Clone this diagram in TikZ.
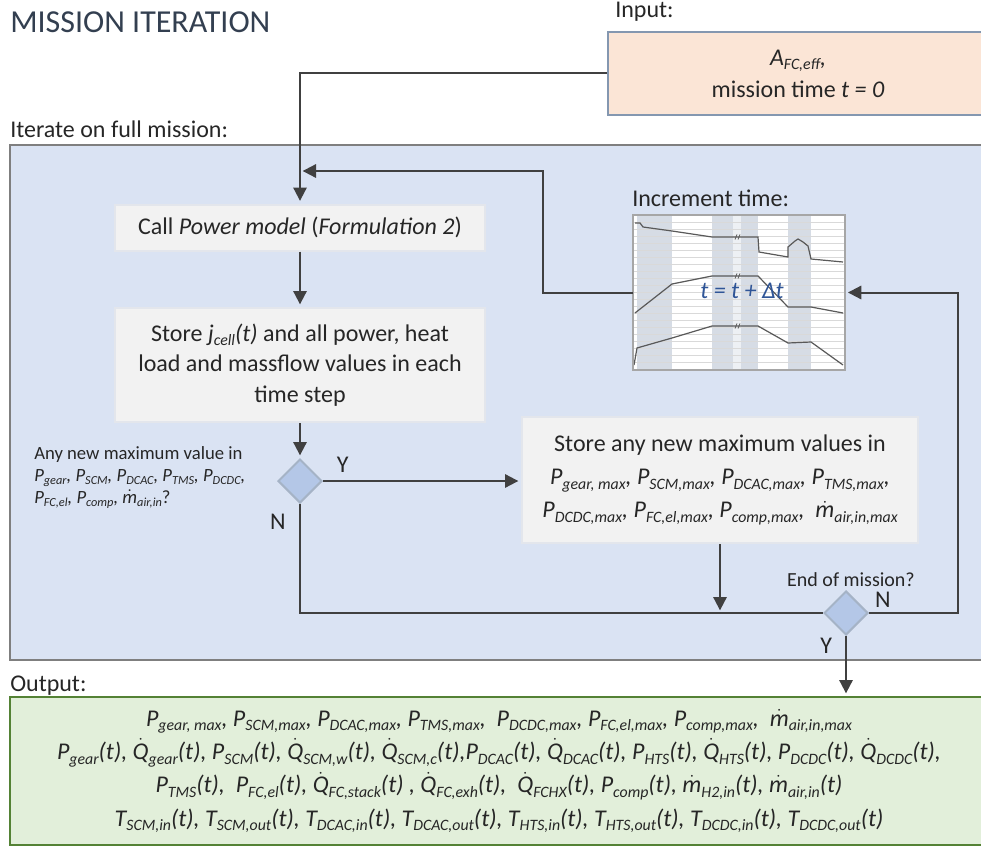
\documentclass[tikz,border=0pt]{standalone}
\usepackage{fontspec}
\setmainfont{Carlito}
\usepackage{amsmath}
\usepackage{tikz}
\usetikzlibrary{arrows.meta,shapes.geometric,positioning}

\definecolor{titlec}{HTML}{333F50}
\definecolor{txt}{HTML}{262626}
\definecolor{arr}{HTML}{404040}
\definecolor{inputfill}{HTML}{FBE5D6}
\definecolor{inputdraw}{HTML}{8497B0}
\definecolor{loopfill}{HTML}{DAE3F3}
\definecolor{loopdraw}{HTML}{7F7F7F}
\definecolor{procfill}{HTML}{F2F2F2}
\definecolor{procdraw}{HTML}{E3E6EC}
\definecolor{decfill}{HTML}{B4C7E7}
\definecolor{decdraw}{HTML}{A5B3C6}
\definecolor{outfill}{HTML}{E2EFDA}
\definecolor{outdraw}{HTML}{548235}
\definecolor{bandc}{HTML}{D6DCE5}
\definecolor{bandlight}{HTML}{EDF0F4}
\definecolor{tblue}{HTML}{2F5597}

\makeatletter
\newcommand{\sbs}[1]{\raisebox{-0.2em}{\fontsize{\fpeval{0.66*\f@size}}{0}\selectfont #1}}
\makeatother
\newcommand{\va}[2]{#1\sbs{#2}}
\newcommand{\vd}[2]{$\dot{\mbox{#1}}$\sbs{#2}}

\begin{document}
\begin{tikzpicture}[x=0.75pt,y=-0.75pt,>={Triangle[length=10pt,width=10pt]},
                    font=\fontsize{18}{23}\selectfont,text=txt]
  \tikzstyle{proc}=[draw=procdraw,fill=procfill,line width=1.5pt,align=center,inner sep=4pt]
  \tikzstyle{decision}=[diamond,aspect=1,draw=decdraw,fill=decfill,line width=1.5pt,inner sep=0pt,minimum size=33pt]
  \tikzstyle{link}=[draw=arr,line width=1.5pt]
  \tikzstyle{flow}=[link,->,shorten >=2pt]
  \tikzstyle{lbl}=[inner sep=0pt,text=txt]
  \tikzstyle{small}=[font=\fontsize{14}{16.5}\selectfont]
  \tikzstyle{grid}=[draw=black!15,line width=0.4pt]
  \tikzstyle{curve}=[draw=black!65,line width=0.9pt]

  \useasboundingbox (0,0) rectangle (981,849);

  % loop frame
  \draw[draw=loopdraw,fill=loopfill,line width=1.5pt] (10,145) rectangle (990,660);

  \node[lbl,anchor=base west,text=titlec,font=\fontsize{24}{29}\selectfont] (T) at (10,33) {MISSION ITERATION};
  \node[lbl,anchor=base west] (Lin)  at (615,18)  {Input:};
  \node[lbl,anchor=base west] (Lit)  at (10,137)  {Iterate on full mission:};
  \node[lbl,anchor=base west] (Lout) at (10,691)  {Output:};

  \node[draw=inputdraw,fill=inputfill,line width=1.5pt,minimum width=285pt,minimum height=62pt,
        align=center,font=\fontsize{18}{24}\selectfont] (In) at (798,73.5)
        {\textit{\va{A}{FC,eff},}\\ mission time \textit{t = 0}};

  \node[proc,minimum width=277.5pt,minimum height=34.5pt] (Call) at (300,227.5)
        {Call \textit{Power model} (\textit{Formulation 2})};
  \node[proc,minimum width=277.5pt,minimum height=85.5pt] (Store) at (300,365)
        {Store \textit{\va{j}{cell}(t)} and all power, heat\\ load and massflow values in each\\ time step};
  \node[decision] (D1) at (300,481) {};
  \node[lbl,small,anchor=north west,align=left] (Q) at (34,446)
        {Any new maximum value in\\
         \textit{\va{P}{gear}, \va{P}{SCM}, \va{P}{DCAC}, \va{P}{TMS}, \va{P}{DCDC},}\\
         \textit{\va{P}{FC,el}, \va{P}{comp}, \vd{m}{air,in}}?};
  \node[proc,minimum width=297pt,minimum height=94.5pt,font=\fontsize{18}{25}\selectfont] (Max) at (720,480)
        {Store any new maximum values in\\
         \textit{\va{P}{gear, max}, \va{P}{SCM,max}, \va{P}{DCAC,max}, \va{P}{TMS,max},}\\
         \textit{\va{P}{DCDC,max}, \va{P}{FC,el,max}, \va{P}{comp,max},~ \vd{m}{air,in,max}}};

  % increment time chart
  \node[lbl,anchor=base west] (Linc) at (632,206) {Increment time:};
  \node[fill=white,minimum width=159pt,minimum height=116.25pt,inner sep=0pt] (Inc) at (739,292.5) {};
  \foreach \a/\b in {637/672,712/733,741/758,788/811}
    \fill[bandc] (\a,216) rectangle (\b,369);
  \fill[bandlight] (733,216) rectangle (741,369);
  \foreach \y in {222,229,...,366}
    \draw[grid] (634,\y) -- (844,\y);
  \draw[curve] (635,223) -- (640,223) -- (643,227) -- (672,231) -- (712,237) -- (758,237) -- (759,252)
               -- (788,257) -- (788,247) -- (795,241) -- (798,239) -- (803,242) -- (808,246) -- (811,259) -- (843,262);
  \draw[curve] (635,313) -- (672,284) -- (712,276) -- (758,276) -- (788,307) -- (811,307) -- (843,313);
  \draw[curve] (634,365) -- (637,348) -- (672,338) -- (712,326) -- (758,326) -- (788,343) -- (811,342) -- (843,365);
  \foreach \y in {237,276,326}
    \draw[curve,line width=0.6pt] (735,\y+2.5) -- (737,\y-2.5) (738,\y+2.5) -- (740,\y-2.5);
  \draw[draw=black!35,line width=1.5pt] (Inc.south west) rectangle (Inc.north east);
  \node[lbl,text=tblue,font=\fontsize{18}{23}\selectfont\itshape] (Tinc) at (742,291) {t = t + Δt};

  \node[decision] (D2) at (846,613) {};
  \node[lbl,anchor=base,font=\fontsize{15}{18}\selectfont] (Lend) at (851,586) {End of mission?};

  \node[draw=outdraw,fill=outfill,line width=1.5pt,minimum width=733.5pt,minimum height=111pt,
        align=center,font=\fontsize{18}{25}\selectfont\itshape] (Out) at (499,771)
        {\va{P}{gear, max}, \va{P}{SCM,max}, \va{P}{DCAC,max}, \va{P}{TMS,max},~ \va{P}{DCDC,max}, \va{P}{FC,el,max}, \va{P}{comp,max},~ \vd{m}{air,in,max}\\
         \va{P}{gear}(t), \vd{Q}{gear}(t), \va{P}{SCM}(t), \vd{Q}{SCM,w}(t), \vd{Q}{SCM,c}(t),\va{P}{DCAC}(t), \vd{Q}{DCAC}(t), \va{P}{HTS}(t), \vd{Q}{HTS}(t), \va{P}{DCDC}(t), \vd{Q}{DCDC}(t),\\
         \va{P}{TMS}(t),~ \va{P}{FC,el}(t), \vd{Q}{FC,stack}(t) , \vd{Q}{FC,exh}(t),~ \vd{Q}{FCHX}(t), \va{P}{comp}(t), \vd{m}{H2,in}(t), \vd{m}{air,in}(t)\\
         \va{T}{SCM,in}(t), \va{T}{SCM,out}(t), \va{T}{DCAC,in}(t), \va{T}{DCAC,out}(t), \va{T}{HTS,in}(t), \va{T}{HTS,out}(t), \va{T}{DCDC,in}(t), \va{T}{DCDC,out}(t)};

  \coordinate (J1) at (Call.north |- 0,171);

  \draw[flow] (In.west) -| (Call.north);
  \draw[flow] (Inc.west) -- ++(-90,0) |- (J1);
  \draw[flow] (Call) -- (Store);
  \draw[flow] (Store) -- (D1);
  \draw[flow] (D1.east) -- node[lbl,pos=0.1,above=6pt] {Y} (D1.east -| Max.west);
  \draw[link] (D1.south) |- node[lbl,pos=0.08,left=10pt] {N} (D2.west);
  \draw[flow] (Max.south) -- (Max.south |- D2.west);
  \draw[flow] (D2.east) node[lbl,anchor=south west,xshift=3.75pt,yshift=3.75pt] {N} -- ++(89,0) |- (Inc.east);
  \draw[flow] (D2.south) -- node[lbl,pos=0.16,left=9.75pt] {Y} (D2.south |- Out.north);
\end{tikzpicture}
\end{document}
